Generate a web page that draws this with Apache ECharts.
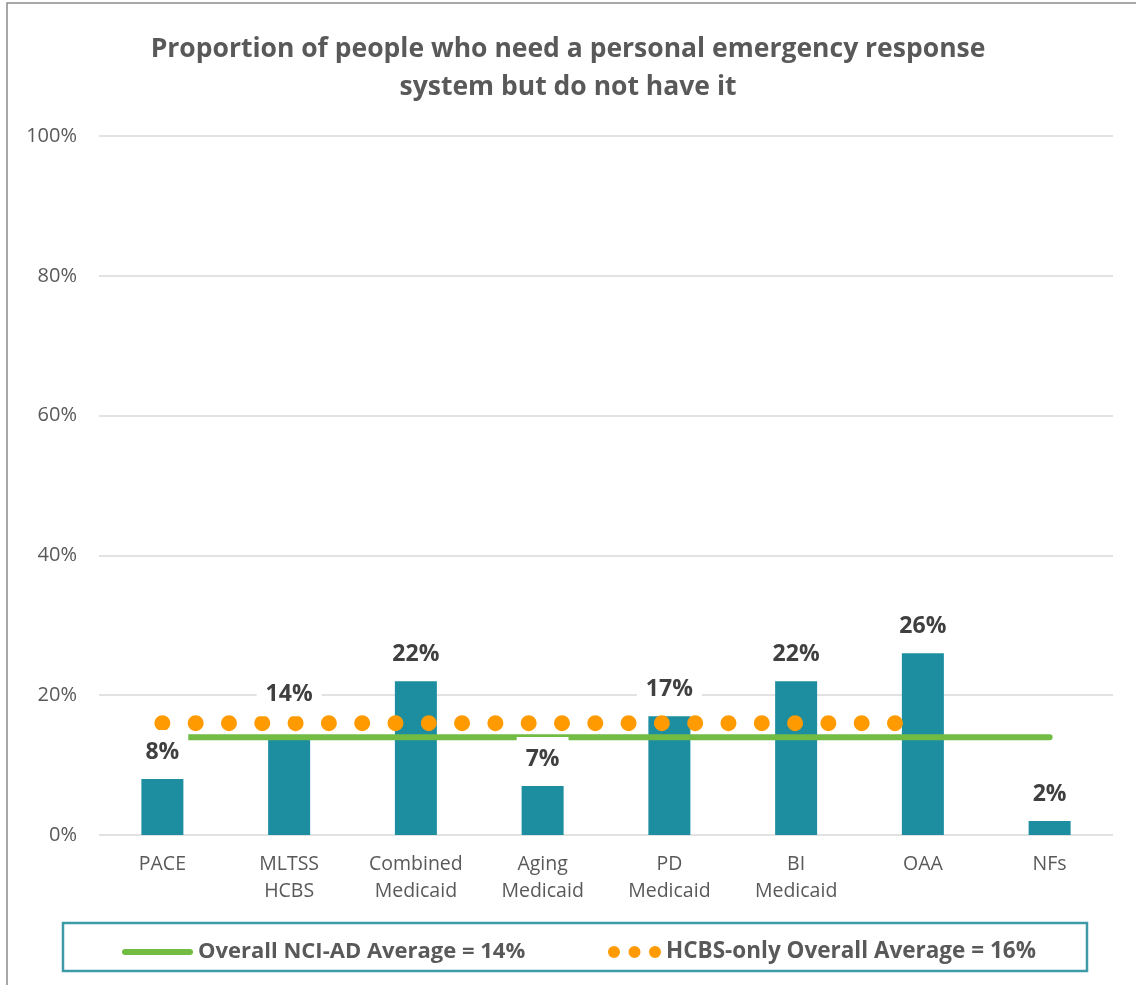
<!DOCTYPE html>
<html>
<head>
<meta charset="utf-8">
<script src="https://cdn.jsdelivr.net/npm/echarts@6/dist/echarts.min.js"></script>
<style>
html,body{margin:0;padding:0;background:#fff;}
#chart{width:1136px;height:985px;}
</style>
</head>
<body>
<div id="chart"></div>
<script>
const titleText = 'Proportion of people who need a personal emergency response\nsystem but do not have it';
const categories = ['PACE', 'MLTSS\nHCBS', 'Combined\nMedicaid', 'Aging\nMedicaid', 'PD\nMedicaid', 'BI\nMedicaid', 'OAA', 'NFs'];
const shareValues = [8, 14, 22, 7, 17, 22, 26, 2];
const overallAverage = [14, 14, 14, 14, 14, 14, 14, 14];
const hcbsAverage = [16, 16, 16, 16, 16, 16, 16, null];
const overallName = 'Overall NCI-AD Average = 14%';
const hcbsName = 'HCBS-only Overall Average = 16%';
const yTicks = [0, 20, 40, 60, 80, 100];

const chart = echarts.init(document.getElementById('chart'), null, {renderer: 'canvas'});
const FONT = 'Open Sans';
const GRAY = '#595959';

const labelData = shareValues.map((v, i) => i === 1 ? {value: v, label: {distance: 21}} : v);

chart.setOption({
  animation: false,
  backgroundColor: '#fff',
  title: {
    text: titleText,
    left: 'center',
    top: 25,
    textStyle: {fontFamily: FONT, fontWeight: 'bold', fontSize: 26.5, color: GRAY, lineHeight: 38}
  },
  grid: {left: 99, right: 23, top: 136, bottom: 150, containLabel: false},
  xAxis: {
    type: 'category',
    data: categories,
    axisLine: {show: false},
    axisTick: {show: false},
    axisLabel: {fontFamily: FONT, fontSize: 19.5, color: GRAY, lineHeight: 27, margin: 16, interval: 0}
  },
  yAxis: {
    type: 'value',
    min: yTicks[0],
    max: yTicks[yTicks.length - 1],
    interval: 20,
    axisLine: {show: false},
    axisTick: {show: false},
    axisLabel: {fontFamily: FONT, fontSize: 20, color: GRAY, margin: 22, formatter: '{value}%'},
    splitLine: {lineStyle: {color: '#D9D9D9', width: 1.5}}
  },
  legend: [
    {
      data: [{name: overallName, icon: 'path://M3,0 L68,0 A3,3 0 0,1 68,6 L3,6 A3,3 0 0,1 3,0 Z'}],
      left: 117, top: 935,
      itemWidth: 71, itemHeight: 6,
      selectedMode: false,
      textStyle: {fontFamily: FONT, fontWeight: 'bold', fontSize: 22, color: GRAY, lineHeight: 24}
    },
    {
      data: [{name: hcbsName, icon: 'path://M0,6a6,6 0 1,0 12,0a6,6 0 1,0 -12,0M20.5,6a6,6 0 1,0 12,0a6,6 0 1,0 -12,0M41,6a6,6 0 1,0 12,0a6,6 0 1,0 -12,0'}],
      left: 603, top: 935,
      itemWidth: 53, itemHeight: 12,
      selectedMode: false,
      textStyle: {fontFamily: FONT, fontWeight: 'bold', fontSize: 22.5, color: GRAY, lineHeight: 24}
    }
  ],
  graphic: [
    {type: 'rect', shape: {x: 7, y: 3, width: 1140, height: 995}, style: {fill: 'none', stroke: '#8C8C8C', lineWidth: 1.5}, silent: true, z: 0},
    {type: 'rect', shape: {x: 63, y: 923, width: 1024, height: 48}, style: {fill: 'none', stroke: '#3E9AA6', lineWidth: 2.5}, silent: true, z: 0}
  ],
  series: [
    {
      name: 'Share',
      type: 'bar',
      data: shareValues,
      barWidth: 42,
      itemStyle: {color: '#1C8EA0'},
      emphasis: {disabled: true},
      z: 2
    },
    {
      name: overallName,
      type: 'line',
      data: overallAverage,
      symbol: 'none',
      lineStyle: {color: '#72BC44', width: 6, cap: 'round'},
      itemStyle: {color: '#72BC44'},
      emphasis: {disabled: true},
      z: 3
    },
    {
      name: hcbsName,
      type: 'line',
      data: hcbsAverage,
      symbol: 'none',
      connectNulls: false,
      lineStyle: {color: '#FF9A00', width: 16, type: [0, 33.3], cap: 'round'},
      itemStyle: {color: '#FF9A00'},
      emphasis: {disabled: true},
      z: 3
    },
    {
      name: 'Labels',
      type: 'bar',
      data: labelData,
      barWidth: 42,
      barGap: '-100%',
      itemStyle: {color: 'transparent'},
      emphasis: {disabled: true},
      silent: true,
      z: 5,
      label: {
        show: true,
        position: 'top',
        distance: 5,
        formatter: '{c}%',
        fontFamily: FONT,
        fontWeight: 'bold',
        fontSize: 23,
        lineHeight: 26,
        color: '#404040',
        backgroundColor: '#fff',
        padding: [9, 9]
      }
    }
  ]
});
</script>
</body>
</html>
